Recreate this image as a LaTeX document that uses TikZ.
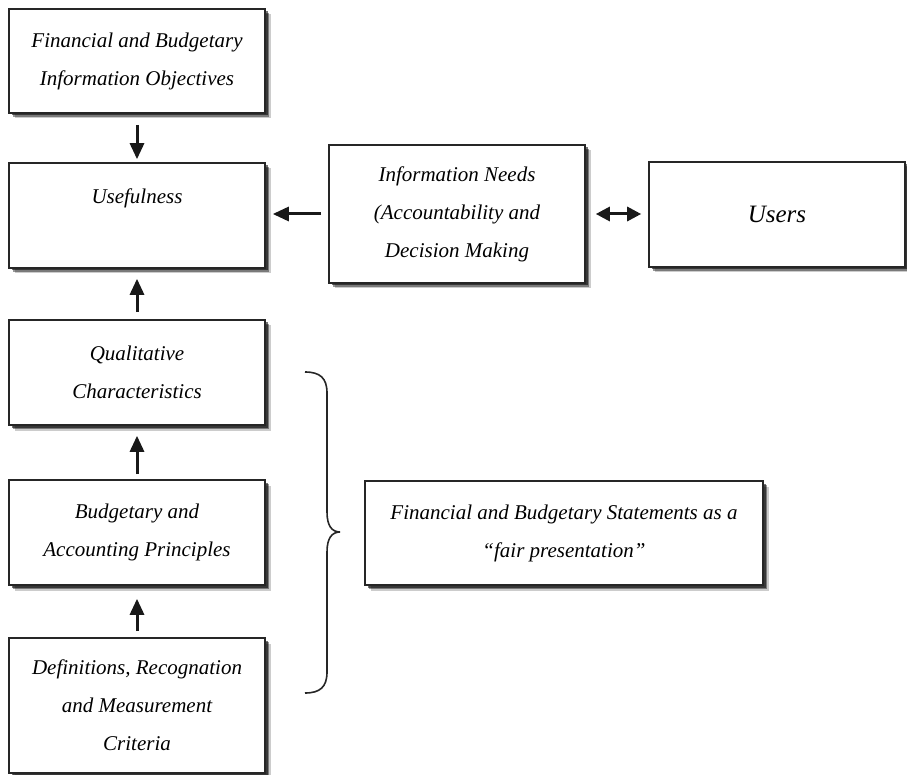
\documentclass[tikz,border=0pt]{standalone}
\usepackage{fontspec}
\setmainfont{Liberation Serif}
\usetikzlibrary{arrows.meta,shadows}
\begin{document}
\begin{tikzpicture}[x=1pt,y=-1pt,
  box/.style={draw=black!85, line width=1.6pt, fill=white, rectangle,
    minimum width=256pt, inner sep=2pt, align=center,
    font=\fontsize{21}{38}\selectfont\itshape,
    drop shadow={shadow xshift=5.5pt, shadow yshift=-5.5pt, fill=black, opacity=0.2},
    drop shadow={shadow xshift=4pt, shadow yshift=-4pt, fill=black, opacity=0.4},
    drop shadow={shadow xshift=2.5pt, shadow yshift=-2.5pt, fill=black, opacity=0.55}},
  arr/.style={line width=3pt, draw=black!90, -{Triangle[length=16pt,width=14pt]}},
  darr/.style={line width=3pt, draw=black!90, {Triangle[length=14pt,width=14pt]}-{Triangle[length=14pt,width=14pt]}},
  brace/.style={line width=1.6pt, draw=black!85}]
\useasboundingbox (0,0) rectangle (907,775);

\node[box, minimum height=104pt] (obj) at (137,61) {Financial and Budgetary\\Information Objectives};
\node[box, minimum height=105pt] (use) at (137,215.5) {Usefulness\\\mbox{}};
\node[box, minimum height=138pt] (need) at (457,214) {Information Needs\\(Accountability and\\Decision Making};
\node[box, minimum height=105pt, font=\fontsize{25}{38}\selectfont\itshape] (users) at (777,214.5) {Users};
\node[box, minimum height=105pt] (qual) at (137,372.5) {Qualitative\\Characteristics};
\node[box, minimum height=105pt] (bud) at (137,532.5) {Budgetary and\\Accounting Principles};
\node[box, minimum height=135pt] (def) at (137,705.5) {Definitions, Recognation\\and Measurement\\Criteria};
\node[box, minimum width=398pt, minimum height=104pt] (stat) at (564,533) {Financial and Budgetary Statements as a\\``fair presentation''};

\draw[arr, shorten <=11pt, shorten >=3pt] (obj) -- (use);
\draw[arr, shorten <=7pt, shorten >=7pt] (need.west) -- (need.west -| use.east);
\draw[darr, shorten <=10pt, shorten >=7pt] (need.east) -- (need.east -| users.west);
\draw[arr, shorten <=7pt, shorten >=10pt] (qual) -- (use);
\draw[arr, shorten <=5pt, shorten >=10pt] (bud) -- (qual);
\draw[arr, shorten <=6pt, shorten >=13pt] (def) -- (bud);

\draw[brace] (305,372) .. controls (320,372) and (327,378) .. (327,393)
  -- (327,512) .. controls (327,526) and (332,532) .. (340,532)
  .. controls (332,532) and (327,538) .. (327,552)
  -- (327,672) .. controls (327,687) and (320,693) .. (305,693);
\end{tikzpicture}
\end{document}
